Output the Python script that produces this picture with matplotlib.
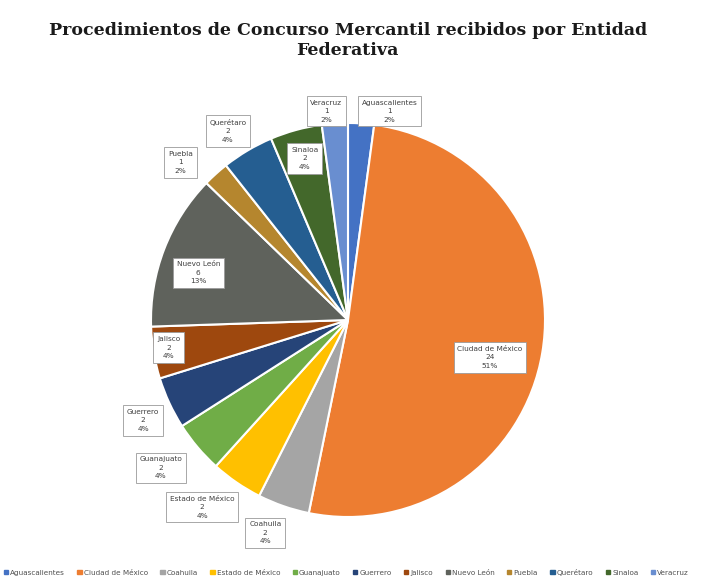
import matplotlib
matplotlib.use("Agg")
import matplotlib.pyplot as plt

states = ["Aguascalientes", "Ciudad de México", "Coahuila", "Estado de México",
          "Guanajuato", "Guerrero", "Jalisco", "Nuevo León", "Puebla",
          "Querétaro", "Sinaloa", "Veracruz"]
counts = [1, 24, 2, 2, 2, 2, 2, 6, 1, 2, 2, 1]
colors = ["#4472C4", "#ED7D31", "#A5A5A5", "#FFC000", "#70AD47", "#264478",
          "#9E480E", "#5F625C", "#B5862E", "#255E91", "#43682B", "#698ED0"]
title = "Procedimientos de Concurso Mercantil recibidos por Entidad\nFederativa"

# label box positions (data coords, pie radius = 1)
label_pos = [(0.21, 1.06), (0.72, -0.19), (-0.42, -1.08), (-0.74, -0.95),
             (-0.95, -0.75), (-1.04, -0.51), (-0.91, -0.14), (-0.76, 0.24),
             (-0.85, 0.80), (-0.61, 0.96), (-0.22, 0.82), (-0.11, 1.06)]

fig = plt.figure(figsize=(7.14, 5.82), dpi=100)
cx, cy, r = 348, 582 - 320, 197
half = 1.3 * r
ax = fig.add_axes([(cx - half) / 714, (cy - half) / 582, 2 * half / 714, 2 * half / 582])
wedges, _ = ax.pie(counts, colors=colors, startangle=90, counterclock=False,
                   radius=1, wedgeprops=dict(edgecolor="white", linewidth=1.5))
ax.set_xlim(-1.3, 1.3)
ax.set_ylim(-1.3, 1.3)
ax.set_aspect("equal")
ax.axis("off")

total = sum(counts)
for name, c, (x, y) in zip(states, counts, label_pos):
    pct = round(100 * c / total)
    ax.text(x, y, f"{name}\n{c}\n{pct}%", ha="center", va="center", fontsize=5.3,
            color="#404040", linespacing=1.5,
            bbox=dict(boxstyle="square,pad=0.5", facecolor="white", edgecolor="#9a9a9a",
                      linewidth=0.6))

fig.text(0.487, 0.93, title, ha="center", va="center", fontsize=12.5,
         fontweight="bold", family="DejaVu Serif", color="#1a1a1a", linespacing=1.2)

handles = [plt.Rectangle((0, 0), 1, 1, color=c) for c in colors]
fig.legend(handles, states, loc="center", bbox_to_anchor=(0.485, 0.017), ncol=12,
           frameon=False, fontsize=5.2, handlelength=0.6, handleheight=0.6,
           handletextpad=0.3, columnspacing=1.7, labelcolor="#505050")

fig.savefig("out.png", dpi=100, facecolor="white")
